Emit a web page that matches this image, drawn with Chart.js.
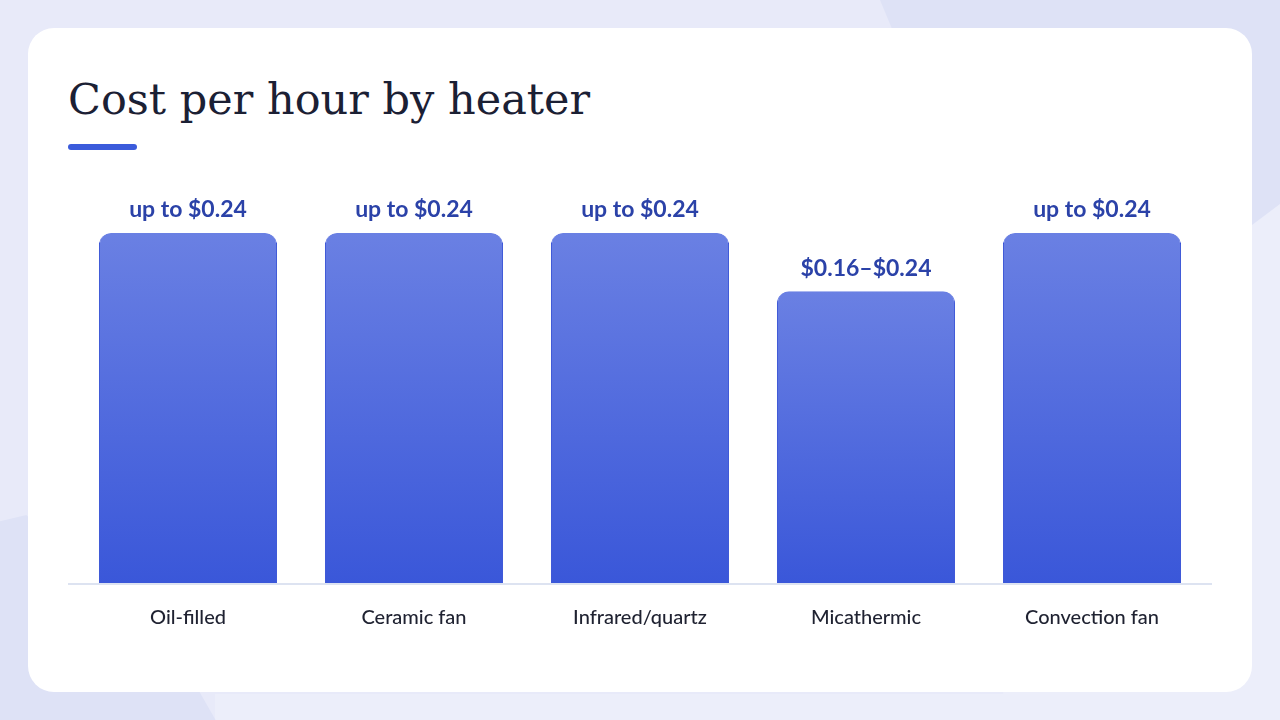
<!DOCTYPE html>
<html>
<head>
<meta charset="utf-8">
<script src="https://cdn.jsdelivr.net/npm/chart.js@4.4.1/dist/chart.umd.min.js"></script>
<style>
    html, body {
        margin: 0;
        width: 1280px;
        height: 720px;
        overflow: hidden;
        background: #e8eaf9;
        font-family: Lato, 'Noto Sans', sans-serif;
    }
    .shape {
        position: absolute;
        background: #dee2f6;
    }
    .shape.top-right {
        left: 880px;
        top: 0;
        width: 400px;
        height: 240px;
        clip-path: polygon(0 0, 100% 0, 100% 85%, 92% 95%, 5% 20%);
    }
    .shape.bottom-left {
        left: 0;
        top: 515px;
        width: 220px;
        height: 205px;
        clip-path: polygon(0 3%, 12% 0, 90% 85%, 98% 100%, 0 100%);
    }
    .shape.light-band {
        left: 215px;
        top: 200px;
        width: 1065px;
        height: 520px;
        background: #eceefa;
        clip-path: polygon(100% 0, 100% 100%, 0 100%, 0 95%, 74% 95%, 74% 10%);
    }
    .card {
        position: absolute;
        left: 28px;
        top: 28px;
        width: 1224px;
        height: 664px;
        background: #ffffff;
        border-radius: 26px;
    }
    h1 {
        position: absolute;
        left: 68px;
        top: 71px;
        margin: 0;
        font-family: 'DejaVu Serif', 'Liberation Serif', serif;
        font-weight: 400;
        font-size: 43px;
        line-height: 56px;
        color: #1b2034;
    }
    .accent {
        position: absolute;
        left: 68px;
        top: 144px;
        width: 69px;
        height: 6px;
        border-radius: 3px;
        background: #3b5bdb;
    }
    canvas {
        position: absolute;
        left: 0;
        top: 0;
    }
</style>
</head>
<body>
<div class="shape light-band"></div>
<div class="shape top-right"></div>
<div class="shape bottom-left"></div>
<div class="card"></div>
<h1>Cost per hour by heater</h1>
<div class="accent"></div>
<canvas id="chart" width="1280" height="720"></canvas>

<script>
// data (micathermic bar sits at the middle of its range)
const heaters = ['Oil-filled', 'Ceramic fan', 'Infrared/quartz', 'Micathermic', 'Convection fan'];
const costPerHour = [0.24, 0.24, 0.24, 0.20, 0.24];
const costLabels = ['up to $0.24', 'up to $0.24', 'up to $0.24', '$0.16–$0.24', 'up to $0.24'];

// ---------------------------------------------------------->

const barGradient = ctx => {
    const chart = ctx.chart;
    const y = chart.scales.y;
    if (!chart.chartArea || !y) return '#4a66dc';
    const top = y.getPixelForValue(costPerHour[ctx.dataIndex]);
    const g = chart.ctx.createLinearGradient(0, top, 0, chart.chartArea.bottom);
    g.addColorStop(0, '#6a80e3');
    g.addColorStop(1, '#3a57d9');
    return g;
};

const baseline = {
    id: 'baseline',
    beforeDatasetsDraw(chart) {
        const { ctx, chartArea } = chart;
        ctx.save();
        ctx.strokeStyle = '#dde3f1';
        ctx.lineWidth = 2;
        ctx.beginPath();
        ctx.moveTo(chartArea.left - 7, chartArea.bottom + 1);
        ctx.lineTo(chartArea.right + 7, chartArea.bottom + 1);
        ctx.stroke();
        ctx.restore();
    },
};

const valueLabels = {
    id: 'valueLabels',
    afterDatasetsDraw(chart) {
        const { ctx } = chart;
        const meta = chart.getDatasetMeta(0);
        ctx.save();
        ctx.font = '700 23px Lato, sans-serif';
        ctx.fillStyle = '#2b42a8';
        ctx.textAlign = 'center';
        ctx.textBaseline = 'middle';
        meta.data.forEach((bar, i) => {
            ctx.fillText(costLabels[i], bar.x, bar.y - 23);
        });
        ctx.restore();
    },
};

new Chart(document.getElementById('chart'), {
    type: 'bar',
    data: {
        labels: heaters,
        datasets: [
            {
                label: 'Cost per hour',
                data: costPerHour,
                backgroundColor: barGradient,
                borderColor: '#3752d6',
                borderWidth: { left: 1, right: 1, top: 0, bottom: 0 },
                borderRadius: { topLeft: 12, topRight: 12 },
                borderSkipped: 'bottom',
                categoryPercentage: 1,
                barPercentage: 0.788,
            },
        ],
    },
    options: {
        responsive: false,
        animation: false,
        layout: {
            padding: { left: 75, right: 75, top: 233, bottom: 67 },
        },
        scales: {
            x: {
                grid: { display: false, drawTicks: false },
                border: { display: false },
                ticks: {
                    padding: 23,
                    color: '#1f2231',
                    font: { family: 'Lato', size: 20, weight: '500' },
                },
            },
            y: {
                display: false,
                min: 0,
                max: 0.24,
            },
        },
        plugins: {
            legend: { display: false },
            tooltip: { enabled: false },
        },
    },
    plugins: [baseline, valueLabels],
});
</script>
</body>
</html>
